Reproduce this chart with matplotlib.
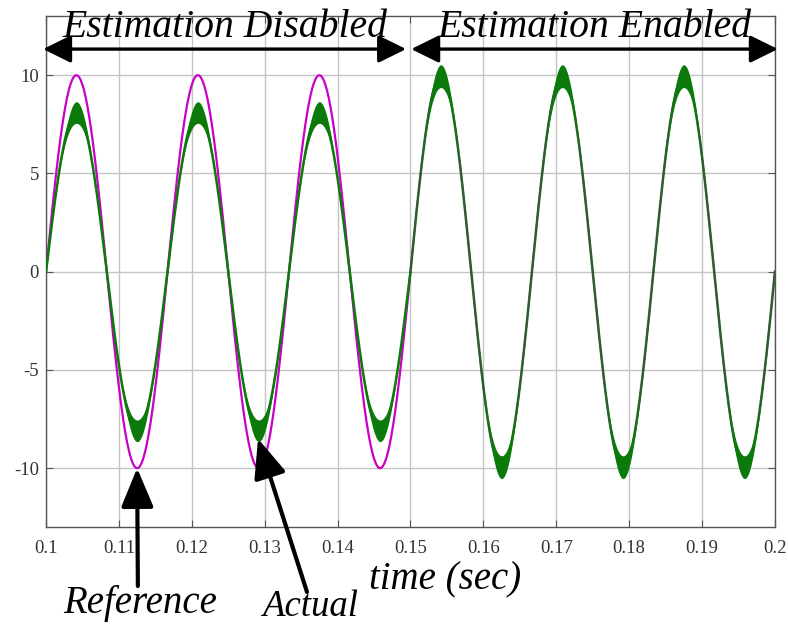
import matplotlib
matplotlib.use("Agg")
import matplotlib.pyplot as plt
import numpy as np

# signal parameters
freq_hz = 60.0
t_start, t_switch, t_end = 0.1, 0.15, 0.2
ref_amp = 10.0
act_amp = [8.1, 9.95]        # actual amplitude: estimation disabled / enabled
ripple_amp = [0.55, 0.58]    # half-width of the ripple band at the peaks

x_ticks = [0.1, 0.11, 0.12, 0.13, 0.14, 0.15, 0.16, 0.17, 0.18, 0.19, 0.2]
x_ticklabels = ["0.1", "0.11", "0.12", "0.13", "0.14", "0.15", "0.16", "0.17", "0.18", "0.19", "0.2"]
y_ticks = [-10, -5, 0, 5, 10]
y_ticklabels = ["-10", "-5", "0", "5", "10"]

MAGENTA = "#c800c8"
GREEN = "#0b7a0b"
DARK = "#4a4a4a"
SERIF = ["Liberation Serif", "DejaVu Serif"]

t = np.linspace(t_start, t_end, 6001)
wave = np.sin(2 * np.pi * freq_hz * t)
off = t <= t_switch
on = t >= t_switch

fig = plt.figure(figsize=(7.88, 6.26), dpi=100)
ax = fig.add_axes([0.0584, 0.158, 0.925, 0.816])

# estimation disabled
ax.plot(t[off], ref_amp * wave[off], color=MAGENTA, lw=1.6, zorder=3)
band = ripple_amp[0] * wave[off] ** 4
ax.fill_between(t[off], act_amp[0] * wave[off] - band, act_amp[0] * wave[off] + band,
                color=GREEN, lw=0, zorder=4)
ax.plot(t[off], act_amp[0] * wave[off], color=GREEN, lw=1.8, zorder=4)

# estimation enabled
ax.plot(t[on], act_amp[1] * wave[on], color=GREEN, lw=1.8, zorder=3)
ax.plot(t[on], ref_amp * wave[on], color=DARK, lw=1.1, zorder=4)
band = ripple_amp[1] * wave[on] ** 4
ax.fill_between(t[on], act_amp[1] * wave[on] - band, act_amp[1] * wave[on] + band,
                color=GREEN, lw=0, zorder=5)

ax.set_xlim(t_start, t_end)
ax.set_ylim(-13, 13)
ax.set_xticks(x_ticks)
ax.set_xticklabels(x_ticklabels)
ax.set_yticks(y_ticks)
ax.set_yticklabels(y_ticklabels)
ax.grid(True, color="#c4c4c4", lw=1.0)
ax.set_axisbelow(True)
ax.tick_params(direction="in", length=5, color="#555555", labelcolor="#333333",
               labelsize=13.5, top=True, right=True)
ax.tick_params(axis="x", pad=9)
ax.tick_params(axis="y", pad=5)
for lab in ax.get_xticklabels() + ax.get_yticklabels():
    lab.set_family(SERIF)
for s in ax.spines.values():
    s.set_color("#555555")
    s.set_linewidth(1.0)

# section arrows above the traces
head = dict(arrowstyle="<|-|>,head_length=0.85,head_width=0.42", color="black",
            lw=2.4, mutation_scale=20, shrinkA=0, shrinkB=0)
ax.annotate("", xy=(0.0996, 11.33), xytext=(0.1494, 11.33), arrowprops=head,
            annotation_clip=False, zorder=6)
ax.annotate("", xy=(0.1501, 11.33), xytext=(0.2004, 11.33), arrowprops=head,
            annotation_clip=False, zorder=6)

txt = dict(family=SERIF, style="italic", ha="center", va="center", color="black")
ax.text(0.12455, 12.45, "Estimation Disabled", fontsize=28.5, **txt)
ax.text(0.17531, 12.45, "Estimation Enabled", fontsize=28.5, **txt)
ax.text(0.15473, -15.7, "time (sec)", fontsize=28, clip_on=False, **txt)

# pointer arrows for the two traces
point = dict(arrowstyle="-|>,head_length=1.2,head_width=0.5", color="black",
             lw=3.0, mutation_scale=20, shrinkA=0, shrinkB=0)
ax.annotate("", xy=(0.1125, -10.0), xytext=(0.1126, -16.0), arrowprops=point,
            annotation_clip=False, zorder=7)
ax.annotate("", xy=(0.12908, -8.5), xytext=(0.1358, -16.3), arrowprops=point,
            annotation_clip=False, zorder=7)
ax.text(0.1129, -16.9, "Reference", fontsize=28, clip_on=False, **txt)
ax.text(0.1362, -17.05, "Actual", fontsize=26.5, clip_on=False, **txt)

fig.savefig("out.png", dpi=100)
